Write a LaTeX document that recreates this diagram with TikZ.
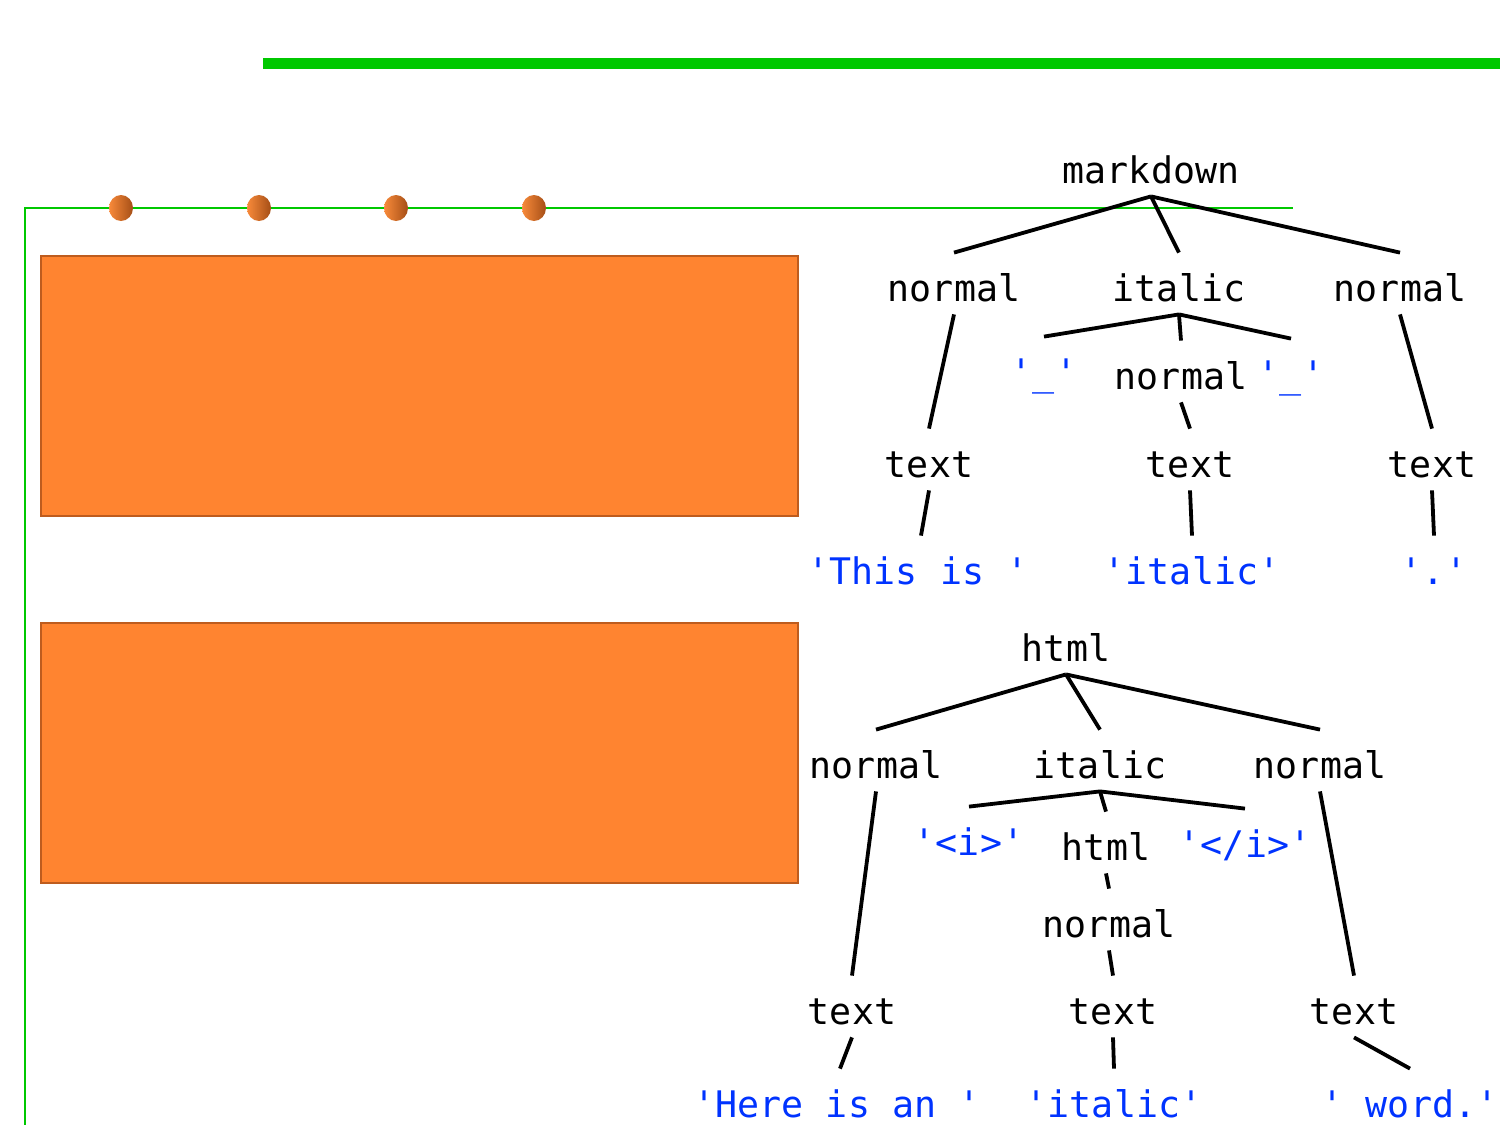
\documentclass[tikz,border=0pt]{standalone}
\usepackage{fontspec}
\setmonofont{DejaVu Sans Mono}
\definecolor{gr}{RGB}{0,200,0}
\definecolor{orfill}{RGB}{255,132,48}
\definecolor{ordraw}{RGB}{190,92,30}
\definecolor{dotL}{RGB}{248,138,58}
\definecolor{dotR}{RGB}{165,78,22}
\definecolor{tokblue}{RGB}{0,51,255}
\begin{document}
\begin{tikzpicture}[x=0.5pt,y=-0.5pt,
  lbl/.style={font=\ttfamily\fontsize{18.3}{22}\selectfont, anchor=base, inner xsep=0pt, inner ysep=5pt, text height=19pt, text depth=1.5pt},
  tok/.style={lbl, text=tokblue},
  edge/.style={draw=black, line width=1.9pt},
  box/.style={fill=orfill, draw=ordraw, line width=1.2pt}
]
\useasboundingbox (0,0) rectangle (1500,1125);
% green lines
\draw[gr, line width=5.5pt] (263,63) -- (1500,63);
\draw[gr, line width=1pt] (25,1125) -- (25,208) -- (1293,208);
% dots
\foreach \x in {121,259,396,534}
  \shade[left color=dotL, right color=dotR] (\x,208) ellipse [x radius=12, y radius=13];
% boxes
\node[box, minimum width=378.5pt, minimum height=130pt, anchor=north west] (box1) at (40,255) {};
\node[box, minimum width=378.5pt, minimum height=130pt, anchor=north west] (box2) at (40,622) {};

% tree 1
\node[lbl] (m) at (1151,183) {markdown};
\node[lbl] (n1) at (954,301) {normal};
\node[lbl] (i1) at (1179,301) {italic};
\node[lbl] (n2) at (1400,301) {normal};
\node[tok] (u1) at (1044,385) {'\_'};
\node[lbl] (n3) at (1181,389) {normal};
\node[tok] (u2) at (1291,387) {'\_'};
\node[lbl] (t1) at (929,477) {text};
\node[lbl] (t2) at (1190,477) {text};
\node[lbl] (t3) at (1432,477) {text};
\node[tok] (s1) at (918,584) {'This is '};
\node[tok] (s2) at (1192,584) {'italic'};
\node[tok] (s3) at (1434,584) {'.'};
\draw[edge] (m.south) -- (n1.north);
\draw[edge] (m.south) -- (i1.north);
\draw[edge] (m.south) -- (n2.north);
\draw[edge] (i1.south) -- (u1.north);
\draw[edge] (i1.south) -- (n3.north);
\draw[edge] (i1.south) -- (u2.north);
\draw[edge] (n1.south) -- (t1.north);
\draw[edge] (n3.south) -- (t2.north);
\draw[edge] (n2.south) -- (t3.north);
\draw[edge] (t1.south) -- (s1.north -| 921,0);
\draw[edge] (t2.south) -- (s2.north);
\draw[edge] (t3.south) -- (s3.north);

% tree 2
\node[lbl] (h) at (1066,661) {html};
\node[lbl] (hn1) at (876,778) {normal};
\node[lbl] (hi) at (1100,778) {italic};
\node[lbl] (hn2) at (1320,778) {normal};
\node[tok] (o1) at (969,855) {'<i>'};
\node[lbl] (hh) at (1106,860) {html};
\node[tok] (o2) at (1245,857) {'</i>'};
\node[lbl] (hn3) at (1109,937) {normal};
\node[lbl] (ht1) at (852,1024) {text};
\node[lbl] (ht2) at (1113,1024) {text};
\node[lbl] (ht3) at (1354,1024) {text};
\node[tok] (w1) at (837,1117) {'Here is an '};
\node[tok] (w2) at (1114,1117) {'italic'};
\node[tok] (w3) at (1410,1117) {' word.'};
\draw[edge] (h.south) -- (hn1.north);
\draw[edge] (h.south) -- (hi.north);
\draw[edge] (h.south) -- (hn2.north);
\draw[edge] (hi.south) -- (o1.north);
\draw[edge] (hi.south) -- (hh.north);
\draw[edge] (hi.south) -- (o2.north);
\draw[edge] (hh.south) -- (hn3.north);
\draw[edge] (hn1.south) -- (ht1.north);
\draw[edge] (hn3.south) -- (ht2.north);
\draw[edge] (hn2.south) -- (ht3.north);
\draw[edge] (ht1.south) -- (w1.north -| 840,0);
\draw[edge] (ht2.south) -- (w2.north);
\draw[edge] (ht3.south) -- (w3.north);
\end{tikzpicture}
\end{document}
